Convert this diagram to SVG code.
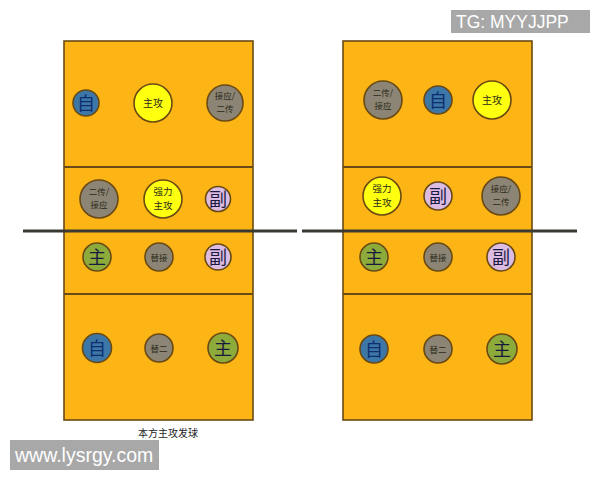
<svg xmlns="http://www.w3.org/2000/svg" width="600" height="480" viewBox="0 0 600 480">
<style>
.court{fill:#FDB515;stroke:#6A4A14;stroke-width:1.6}
.zl{stroke:#6A4A14;stroke-width:1.8}
.net{stroke:#3a3a32;stroke-width:3}
circle{stroke:#6A4A14;stroke-width:1.6}
.b{fill:#3C77A8}.y{fill:#FFFF10}.g{fill:#8C8474}.p{fill:#DCBCE2}.gr{fill:#8CAB3A}
text{font-family:"Noto Sans CJK SC","Liberation Sans",sans-serif;text-anchor:middle}
.big{font-size:18px;fill:#1a1a40}
.bb{font-size:18px;fill:#0E2E6E}
.sm{font-size:10px;fill:#2a2a1a}
.s2{font-size:9.5px;fill:#2a2a1a}
.xs{font-size:8.5px;fill:#2a2a1a}
.cap{font-family:"Noto Sans CJK SC",serif;font-size:10px;fill:#222}
.wm{fill:#A8A8A8}
.wt{font-family:"Liberation Sans",Arial,sans-serif;fill:#fff;text-anchor:start}
</style>
<g id="courts">
<rect class="court" x="64" y="41" width="189" height="379"/>
<rect class="court" x="343" y="41" width="189" height="379"/>
<line class="zl" x1="64" y1="167" x2="253" y2="167"/>
<line class="zl" x1="64" y1="294" x2="253" y2="294"/>
<line class="zl" x1="343" y1="167" x2="532" y2="167"/>
<line class="zl" x1="343" y1="294" x2="532" y2="294"/>
</g>
<g id="connectors">
<line class="net" x1="23" y1="231" x2="297" y2="231"/>
<line class="net" x1="302" y1="231" x2="577" y2="231"/>
</g>
<!-- left court -->
<g id="L1"><circle class="b" cx="86" cy="103" r="13"/><text class="bb" x="86" y="109.5">自</text></g>
<g id="L2"><circle class="y" cx="153" cy="103" r="19"/><text class="sm" x="153" y="107">主攻</text></g>
<g id="L3"><circle class="g" cx="225" cy="103" r="18"/><text class="xs" x="225" y="99">接应/</text><text class="xs" x="225" y="112">二传</text></g>
<g id="L4"><circle class="g" cx="99" cy="199" r="19"/><text class="xs" x="99" y="195">二传/</text><text class="xs" x="99" y="208">接应</text></g>
<g id="L5"><circle class="y" cx="163" cy="199" r="19"/><text class="s2" x="163" y="195">强力</text><text class="s2" x="163" y="209">主攻</text></g>
<g id="L6"><circle class="p" cx="218" cy="199" r="12.5"/><text class="big" x="218" y="205.5">副</text></g>
<g id="L7"><circle class="gr" cx="97" cy="257" r="14"/><text class="big" x="97" y="263.5">主</text></g>
<g id="L8"><circle class="g" cx="159" cy="257" r="14"/><text class="xs" x="159" y="260.5">替接</text></g>
<g id="L9"><circle class="p" cx="218" cy="257" r="13"/><text class="big" x="218" y="263.5">副</text></g>
<g id="L10"><circle class="b" cx="97" cy="348" r="14.5"/><text class="bb" x="97" y="354.5">自</text></g>
<g id="L11"><circle class="g" cx="159" cy="348" r="14"/><text class="xs" x="159" y="351.5">替二</text></g>
<g id="L12"><circle class="gr" cx="223" cy="348" r="15"/><text class="big" x="223" y="354.5">主</text></g>
<!-- right court -->
<g id="R1"><circle class="g" cx="383" cy="100" r="19"/><text class="xs" x="383" y="96">二传/</text><text class="xs" x="383" y="109">接应</text></g>
<g id="R2"><circle class="b" cx="438" cy="100" r="14"/><text class="bb" x="438" y="106.5">自</text></g>
<g id="R3"><circle class="y" cx="492" cy="100" r="19"/><text class="sm" x="492" y="104">主攻</text></g>
<g id="R4"><circle class="y" cx="382" cy="196" r="19"/><text class="s2" x="382" y="192">强力</text><text class="s2" x="382" y="206">主攻</text></g>
<g id="R5"><circle class="p" cx="438" cy="196" r="14"/><text class="big" x="438" y="202.5">副</text></g>
<g id="R6"><circle class="g" cx="501" cy="196" r="19"/><text class="xs" x="501" y="192">接应/</text><text class="xs" x="501" y="205">二传</text></g>
<g id="R7"><circle class="gr" cx="374" cy="257" r="14"/><text class="big" x="374" y="263.5">主</text></g>
<g id="R8"><circle class="g" cx="438" cy="257" r="14"/><text class="xs" x="438" y="260.5">替接</text></g>
<g id="R9"><circle class="p" cx="501" cy="257" r="14"/><text class="big" x="501" y="263.5">副</text></g>
<g id="R10"><circle class="b" cx="374" cy="349" r="14"/><text class="bb" x="374" y="355.5">自</text></g>
<g id="R11"><circle class="g" cx="438" cy="349" r="14"/><text class="xs" x="438" y="352.5">替二</text></g>
<g id="R12"><circle class="gr" cx="502" cy="349" r="15"/><text class="big" x="502" y="355.5">主</text></g>
<text class="cap" x="168" y="437">本方主攻发球</text>
<g id="wm1"><rect class="wm" x="451" y="10" width="139" height="23"/><text class="wt" x="456" y="27.5" font-size="17.5">TG: MYYJJPP</text></g>
<g id="wm2"><rect class="wm" x="10" y="440" width="149" height="30"/><text class="wt" x="15" y="462" font-size="19.5">www.lysrgy.com</text></g>
</svg>
